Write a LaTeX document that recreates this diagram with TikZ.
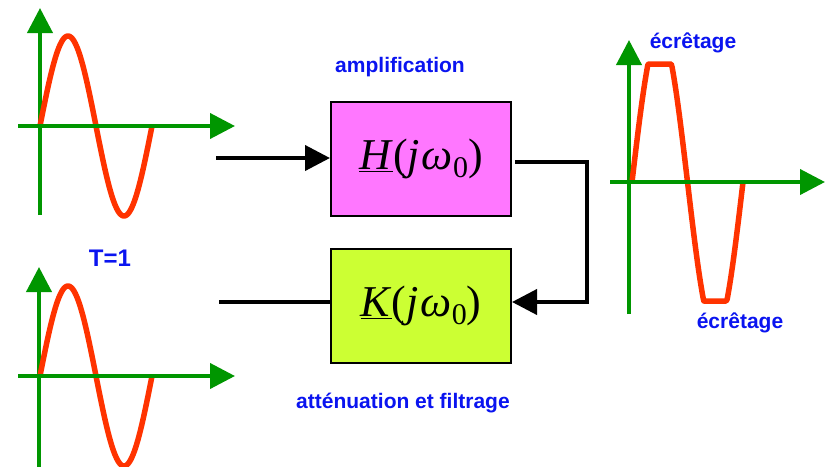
\documentclass[tikz,border=0pt]{standalone}
\usepackage{fontspec}
\setmainfont{Liberation Sans}
\newfontfamily\serifm{Liberation Serif}
\usetikzlibrary{arrows.meta}
\definecolor{lblue}{RGB}{10,20,240}
\definecolor{agreen}{RGB}{0,150,0}
\definecolor{sred}{RGB}{255,51,0}
\definecolor{hpink}{RGB}{255,119,255}
\definecolor{kgreen}{RGB}{204,255,51}
\newcommand{\tf}[1]{{\serifm\fontsize{44}{48}\selectfont\underline{\textit{#1}}(\textit{j}\hspace{2pt}\textit{ω}\raisebox{-0.18em}{\fontsize{30}{30}\selectfont 0})}}
\begin{document}
\begin{tikzpicture}[x=1pt,y=-1pt,
 axis/.style={draw=agreen, line width=4pt, -{Triangle[length=25pt,width=25pt]}},
 wave/.style={draw=sred, line width=5.5pt, line join=round},
 blk/.style={draw=black, line width=2pt, minimum width=180pt, minimum height=114pt, inner sep=0pt},
 lbl/.style={text=lblue, font=\bfseries\fontsize{21}{25}\selectfont, inner sep=0pt},
 wire/.style={line width=4pt},
 arr/.style={wire, -{Triangle[length=25pt,width=25pt]}}]
\useasboundingbox[fill=white] (0,0) rectangle (829,466);

% top-left plot
\draw[axis] (40,215) -- (40,8);
\draw[wave] plot[domain=0:112, samples=90] ({40+\x},{126-90*sin(\x/112*360)});
\draw[axis] (18,126) -- (235,126);

% bottom-left plot
\draw[axis] (39,470) -- (39,267);
\draw[wave] plot[domain=0:112, samples=90] ({40+\x},{376-90*sin(\x/112*360)});
\draw[axis] (18,376) -- (235,376);

% right plot
\draw[axis] (629,314) -- (629,40);
\draw[wave] plot[domain=0:111, samples=120] ({632+\x},{182-max(-119,min(118,150*sin(\x/111*360)))});
\draw[axis] (610,182) -- (825,182);

% blocks
\node[blk, fill=hpink] (H) at (421,159) {\tf{H}};
\node[blk, fill=kgreen] (K) at (421,306) {\tf{K}};

% labels
\node[lbl] (amp) at (400,67) {amplification};
\node[lbl] (att) at (403,403) {atténuation et filtrage};
\node[lbl, font=\bfseries\fontsize{24}{28}\selectfont] (T) at (110,258) {T=1};
\node[lbl] (ec1) at (693,43) {écrêtage};
\node[lbl] (ec2) at (740,323) {écrêtage};

% connectors
\coordinate (inL) at (216,158);
\coordinate (c1) at (587,162);
\coordinate (c2) at (587,302);
\coordinate (outL) at (219,302);
\draw[arr] (inL) -- (H.west |- inL);
\draw[arr] ([xshift=3pt]H.east |- c1) -- (c1) -- (c2) -- (K.east |- c2);
\draw[wire] (K.west |- c2) -- (outL);
\end{tikzpicture}
\end{document}
